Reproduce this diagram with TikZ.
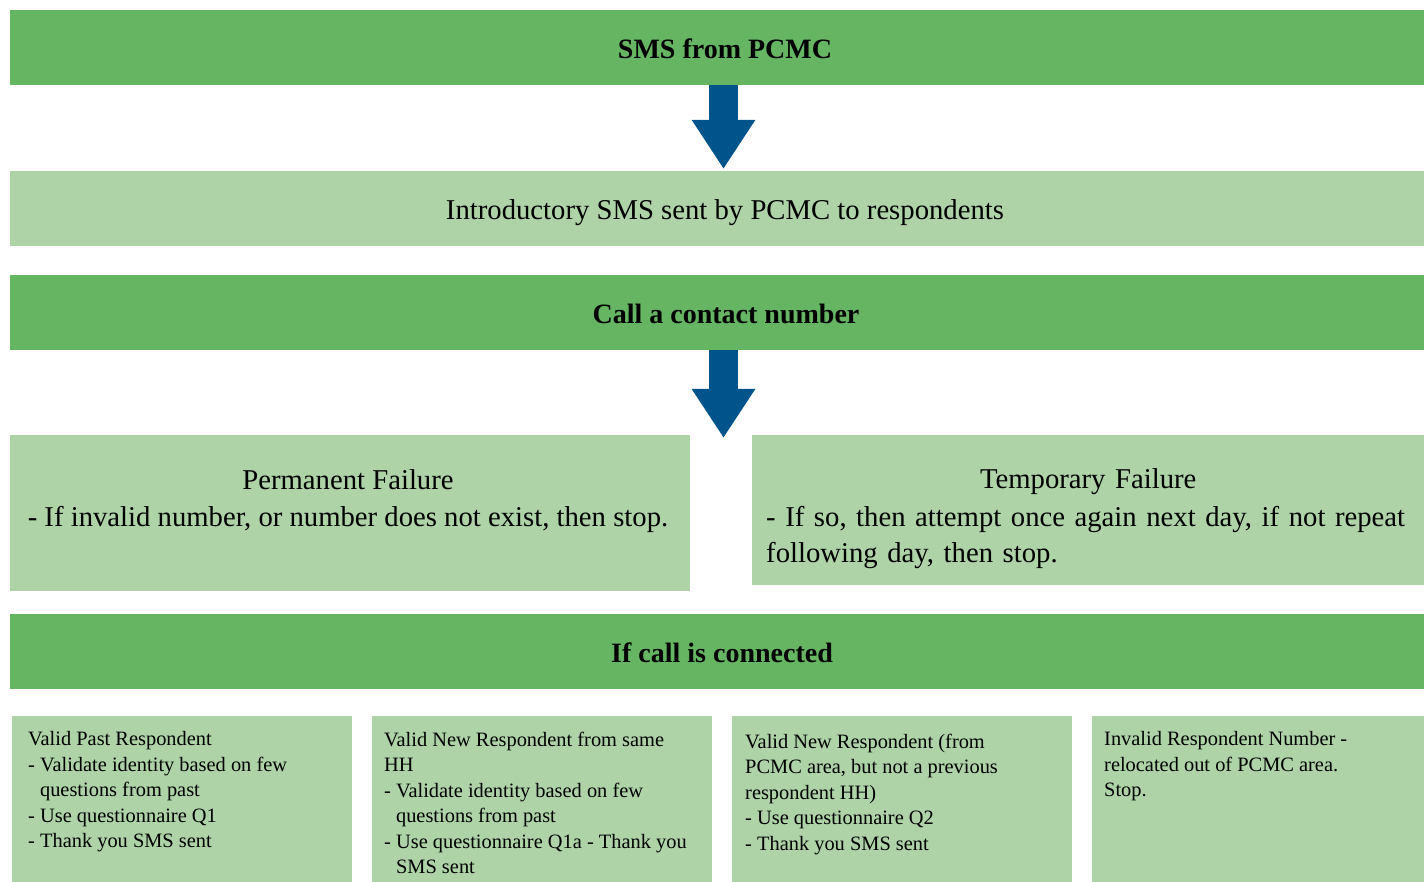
\documentclass[tikz,border=0pt]{standalone}
\usepackage{fontspec}
\setmainfont{Liberation Serif}
\usetikzlibrary{calc,arrows.meta}
\definecolor{dkgreen}{HTML}{65B563}
\definecolor{ltgreen}{HTML}{ADD3A7}
\definecolor{arrowblue}{HTML}{00548C}
\begin{document}
\begin{tikzpicture}[x=1pt,y=-1pt,
  panel/.style={fill=#1, draw=none, inner sep=0pt, outer sep=0pt},
  bigtext/.style={font=\fontsize{28.7}{37}\selectfont, inner sep=0pt, text=black},
  boldtext/.style={font=\fontsize{28}{37}\selectfont\bfseries, inner sep=0pt, text=black},
  smalltext/.style={font=\fontsize{20.4}{25.5}\selectfont, inner sep=0pt, align=left, anchor=north west, text=black},
  blockarrow/.style={arrowblue, line width=29pt, -{Triangle[width=60pt,length=49pt]}}]
\useasboundingbox (0,0) rectangle (1424,882);

% bars and panels
\node[panel=dkgreen, minimum width=1414pt, minimum height=75pt] (b1) at (717,47.5) {};
\node[boldtext] (t1) at ($(b1.center)+(8,1.5)$) {SMS from PCMC};

\node[panel=ltgreen, minimum width=1414pt, minimum height=75pt] (b2) at (717,208.5) {};
\node[bigtext] (t2) at ($(b2.center)+(8,4.5)$) {Introductory SMS sent by PCMC to respondents};

\node[panel=dkgreen, minimum width=1414pt, minimum height=75pt] (b3) at (717,312.5) {};
\node[boldtext] (t3) at ($(b3.center)+(9,1.5)$) {Call a contact number};

\node[panel=ltgreen, minimum width=680pt, minimum height=156pt] (pf) at (350,513) {};
\node[bigtext, align=center] (tpf) at (348,501.5) {Permanent Failure\\- If invalid number, or number does not exist, then stop.};

\node[panel=ltgreen, minimum width=672pt, minimum height=150pt] (tf) at (1088,510) {};
\node[bigtext, text width=644pt, align=left, anchor=north west] (ttf) at (766,468)
  {\makebox[\hsize][c]{Temporary Failure}\\[1pt]- If so, then attempt once again next day, if not repeat\\[-1pt]following day, then stop.};

\node[panel=dkgreen, minimum width=1414pt, minimum height=75pt] (b6) at (717,651.5) {};
\node[boldtext] (t6) at ($(b6.center)+(5,1.5)$) {If call is connected};

\node[panel=ltgreen, minimum width=340pt, minimum height=166pt] (c1) at (182,799) {};
\node[panel=ltgreen, minimum width=340pt, minimum height=166pt] (c2) at (542,799) {};
\node[panel=ltgreen, minimum width=340pt, minimum height=166pt] (c3) at (902,799) {};
\node[panel=ltgreen, minimum width=332pt, minimum height=166pt] (c4) at (1258,799) {};

\node[smalltext] (tc1) at ($(c1.north west)+(16,15.5)$)
  {Valid Past Respondent\\- Validate identity based on few\\\phantom{- }questions from past\\- Use questionnaire Q1\\- Thank you SMS sent};
\node[smalltext] (tc2) at ($(c2.north west)+(12,15.5)$)
  {Valid New Respondent from same\\HH\\- Validate identity based on few\\\phantom{- }questions from past\\- Use questionnaire Q1a - Thank you\\\phantom{- }SMS sent};
\node[smalltext] (tc3) at ($(c3.north west)+(13,17.5)$)
  {Valid New Respondent (from\\PCMC area, but not a previous\\respondent HH)\\- Use questionnaire Q2\\- Thank you SMS sent};
\node[smalltext] (tc4) at ($(c4.north west)+(12,15.5)$)
  {Invalid Respondent Number -\\relocated out of PCMC area.\\Stop.};

% block arrows
\coordinate (ax) at (723.5,0);
\draw[blockarrow] (b1.south -| ax) -- ($(b2.north -| ax)+(0,-2)$);
\draw[blockarrow] (b3.south -| ax) -- ($(pf.north -| ax)+(0,3)$);
\end{tikzpicture}
\end{document}
